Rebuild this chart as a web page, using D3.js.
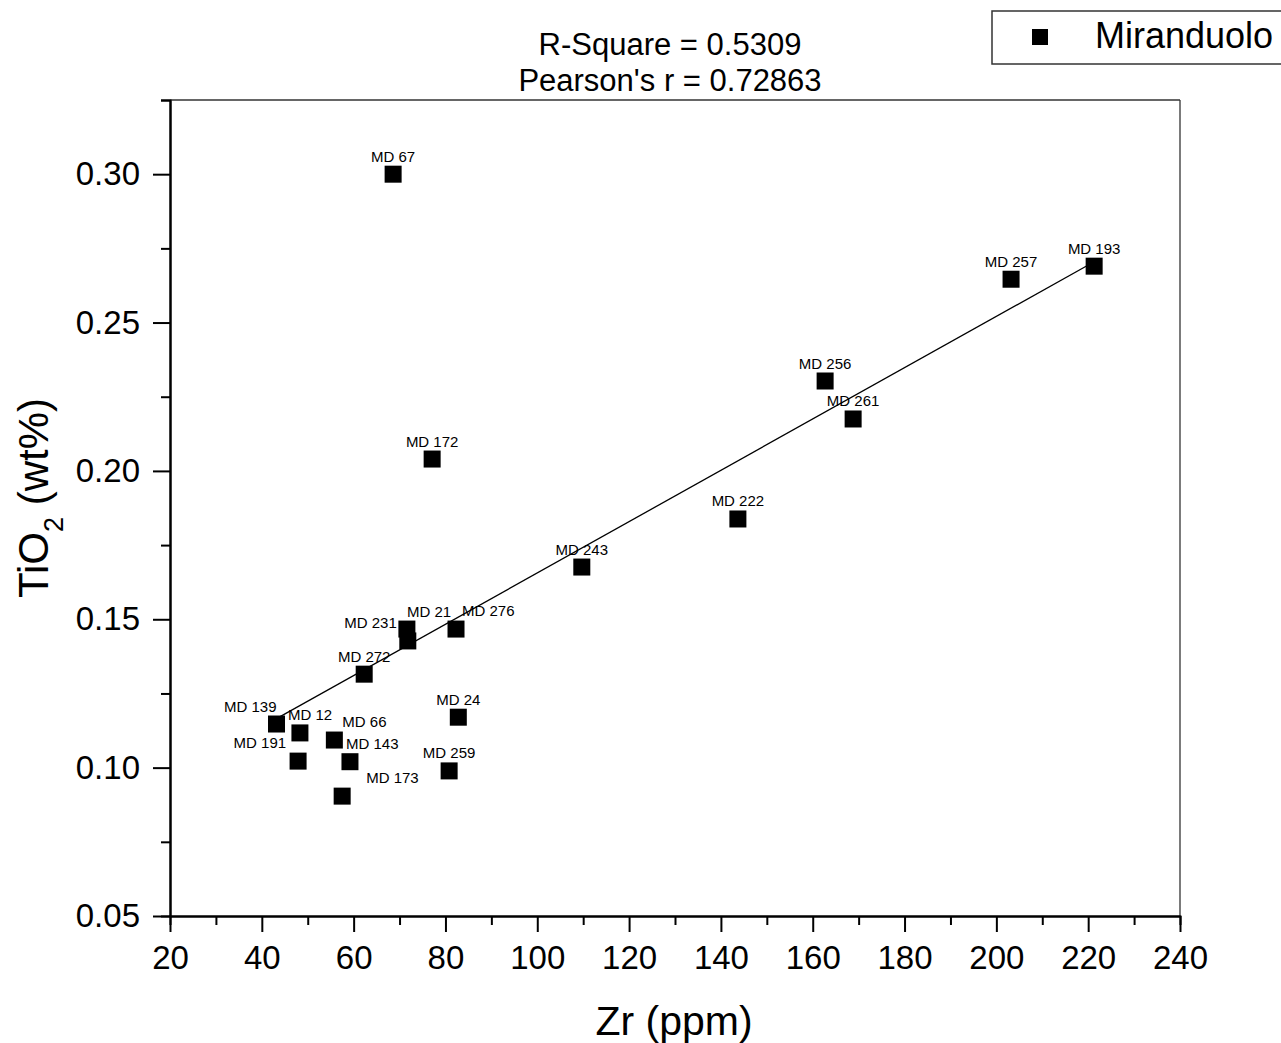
<!DOCTYPE html>
<html>
<head>
<meta charset="utf-8">
<script src="https://cdn.jsdelivr.net/npm/d3@7"></script>
<style>
  html, body { margin: 0; padding: 0; background: #fff; }
  svg { display: block; font-family: "Liberation Sans", Arial, sans-serif; }
</style>
</head>
<body>
<svg id="chart" width="1281" height="1043"></svg>
<script>
// ---- Data ----
const sampleNames = ["MD 67","MD 172","MD 257","MD 193","MD 256","MD 261","MD 222","MD 243",
  "MD 21","MD 231","MD 276","MD 272","MD 139","MD 12","MD 66","MD 191","MD 143","MD 173","MD 24","MD 259"];
const zrValues   = [68.6, 77.1, 203.2, 221.3, 162.7, 168.8, 143.7, 109.7,
  71.6, 71.8, 82.3, 62.3, 43.2, 48.3, 55.8, 47.9, 59.2, 57.5, 82.8, 80.8];
const tio2Values = [0.300, 0.204, 0.2646, 0.269, 0.2303, 0.2175, 0.1838, 0.1676,
  0.1467, 0.1427, 0.1467, 0.1315, 0.1147, 0.1117, 0.1093, 0.1022, 0.1020, 0.0904, 0.1170, 0.0989];
const fitX = [43.2, 221.3];
const fitY = [0.1165, 0.2705];
const xTicks = [20,40,60,80,100,120,140,160,180,200,220,240];
const xMinorTicks = [30,50,70,90,110,130,150,170,190,210,230];
const yTicks = [0.05,0.10,0.15,0.20,0.25,0.30];
const yMinorTicks = [0.075,0.125,0.175,0.225,0.275,0.325];
const titleLines = ["R-Square = 0.5309", "Pearson's r = 0.72863"];
const legendLabel = "Miranduolo";

// ---- Label layout (anchor, dx, dy in px relative to marker centre) ----
const labelLayout = {
  "MD 21":  ["start", 0, -12],
  "MD 231": ["end", -11, -13],
  "MD 276": ["start", 6, -13],
  "MD 139": ["end", 0, -12],
  "MD 12":  ["start", -12, -13],
  "MD 66":  ["start", 8, -13],
  "MD 191": ["end", -12, -13],
  "MD 143": ["start", -4, -13],
  "MD 173": ["start", 24, -13]
};

const svg = d3.select("#chart");
const x = d3.scaleLinear().domain([20, 240]).range([170, 1180]);
const y = d3.scaleLinear().domain([0.05, 0.325]).range([916, 100]);

// frame top/right
svg.append("line").attr("x1", x(20)).attr("x2", x(240)).attr("y1", y(0.325)).attr("y2", y(0.325))
  .attr("stroke", "#333").attr("stroke-width", 1.3);
svg.append("line").attr("x1", x(240)).attr("x2", x(240)).attr("y1", y(0.325)).attr("y2", y(0.05))
  .attr("stroke", "#333").attr("stroke-width", 1.3);

// x axis
const gx = svg.append("g").attr("transform", `translate(0,${y(0.05)})`);
gx.call(d3.axisBottom(x).tickValues(xMinorTicks).tickSize(9).tickFormat(""))
gx.append("g").call(d3.axisBottom(x).tickValues(xTicks).tickSize(16).tickSizeOuter(0).tickPadding(14).tickFormat(d3.format("d")));
gx.selectAll("path.domain").attr("stroke", "#000").attr("stroke-width", 2);
gx.selectAll(".tick line").attr("stroke", "#000").attr("stroke-width", 2);
gx.selectAll(".tick text").attr("font-size", 33).attr("fill", "#000")
  .attr("font-family", "Liberation Sans, Arial, sans-serif");

// y axis
const gy = svg.append("g").attr("transform", `translate(${x(20)},0)`);
gy.call(d3.axisLeft(y).tickValues(yMinorTicks).tickSize(9).tickFormat(""));
gy.append("g").call(d3.axisLeft(y).tickValues(yTicks).tickSize(17).tickSizeOuter(0).tickPadding(13).tickFormat(d3.format(".2f")));
gy.selectAll("path.domain").attr("stroke", "#000").attr("stroke-width", 2);
gy.selectAll(".tick line").attr("stroke", "#000").attr("stroke-width", 2);
gy.selectAll(".tick text").attr("font-size", 33).attr("fill", "#000")
  .attr("font-family", "Liberation Sans, Arial, sans-serif");

// fit line
svg.append("line")
  .attr("x1", x(fitX[0])).attr("y1", y(fitY[0]))
  .attr("x2", x(fitX[1])).attr("y2", y(fitY[1]))
  .attr("stroke", "#000").attr("stroke-width", 1.3);

// points
const pts = sampleNames.map((n, i) => ({ name: n, zr: zrValues[i], ti: tio2Values[i] }));
const S = 17;
svg.append("g").selectAll("rect").data(pts).join("rect")
  .attr("x", d => x(d.zr) - S / 2).attr("y", d => y(d.ti) - S / 2)
  .attr("width", S).attr("height", S).attr("fill", "#000");

svg.append("g").selectAll("text").data(pts).join("text")
  .attr("x", d => x(d.zr) + (labelLayout[d.name] ? labelLayout[d.name][1] : 0))
  .attr("y", d => y(d.ti) + (labelLayout[d.name] ? labelLayout[d.name][2] : -12.5))
  .attr("text-anchor", d => labelLayout[d.name] ? labelLayout[d.name][0] : "middle")
  .attr("font-size", 15).attr("fill", "#000")
  .text(d => d.name);

// title
svg.append("g").selectAll("text").data(titleLines).join("text")
  .attr("x", 670).attr("y", (d, i) => 55 + i * 36)
  .attr("text-anchor", "middle").attr("font-size", 31).attr("fill", "#000")
  .text(d => d);

// axis titles
svg.append("text").attr("x", 674).attr("y", 1035).attr("text-anchor", "middle")
  .attr("font-size", 41).attr("fill", "#000").text("Zr (ppm)");
const yl = svg.append("text").attr("transform", "translate(48,498) rotate(-90)")
  .attr("text-anchor", "middle").attr("font-size", 42).attr("fill", "#000");
yl.append("tspan").text("TiO");
yl.append("tspan").attr("font-size", 27).attr("dy", 15).text("2");
yl.append("tspan").attr("dy", -15).text(" (wt%)");

// legend
svg.append("rect").attr("x", 992).attr("y", 11).attr("width", 320).attr("height", 53)
  .attr("fill", "#fff").attr("stroke", "#333").attr("stroke-width", 1.5);
svg.append("rect").attr("x", 1032).attr("y", 29).attr("width", 16).attr("height", 16).attr("fill", "#000");
svg.append("text").attr("x", 1095).attr("y", 48).attr("font-size", 36).attr("fill", "#000").text(legendLabel);
</script>
</body>
</html>
